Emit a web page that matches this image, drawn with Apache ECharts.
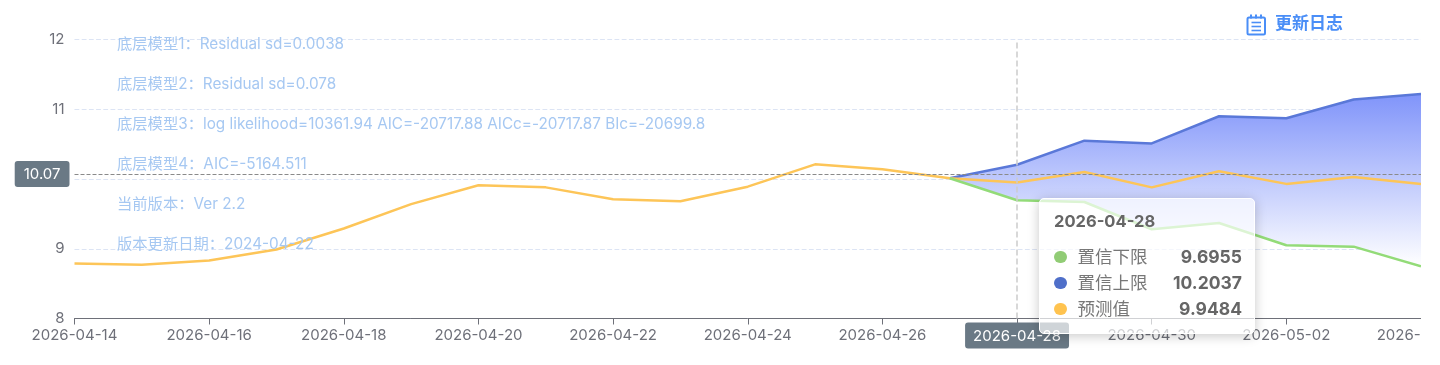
<!DOCTYPE html>
<html lang="zh">
<head>
<meta charset="utf-8">
<style>
html,body{margin:0;padding:0;background:#fff;overflow:hidden}
#chart{width:1421px;height:365px}
</style>
<script src="https://cdn.jsdelivr.net/npm/echarts@6/dist/echarts.min.js"></script>
</head>
<body>
<div id="chart"></div>
<script>
const dates = ['2026-04-14','2026-04-15','2026-04-16','2026-04-17','2026-04-18','2026-04-19','2026-04-20','2026-04-21','2026-04-22','2026-04-23','2026-04-24','2026-04-25','2026-04-26','2026-04-27','2026-04-28','2026-04-29','2026-04-30','2026-05-01','2026-05-02','2026-05-03','2026-05-04'];
const forecast = [8.79,8.77,8.83,8.99,9.29,9.64,9.91,9.88,9.71,9.68,9.89,10.21,10.14,10.01,9.9484,10.10,9.88,10.11,9.93,10.03,9.93];
const lower = [null,null,null,null,null,null,null,null,null,null,null,null,null,10.01,9.6955,9.67,9.28,9.37,9.05,9.03,8.75];
const upper = [null,null,null,null,null,null,null,null,null,null,null,null,null,10.01,10.2037,10.55,10.51,10.90,10.87,11.14,11.22];
const notes = ['底层模型1：Residual sd=0.0038','底层模型2：Residual sd=0.078','底层模型3：log likelihood=10361.94 AIC=-20717.88 AICc=-20717.87 BIc=-20699.8','底层模型4：AIC=-5164.511','当前版本：Ver 2.2','版本更新日期：2024-04-22'];
const logLabel = '更新日志';
const seriesNames = ['置信下限','置信上限','预测值'];
const seriesColors = ['#91CC75','#5470C6','#FAC858'];
const hoverIndex = 14;
const hoverValue = 10.07;

const FONT = 'Inter,"Noto Sans CJK SC",sans-serif';
const chart = echarts.init(document.getElementById('chart'), null, {renderer:'canvas'});
const band = upper.map((u,i)=> u==null ? null : u-lower[i]);

function tipHtml(){
  const vals=[lower,upper,forecast];
  let rows=seriesNames.map((n,k)=>
    `<div style="display:flex;align-items:center;height:26px">
      <span style="width:12.5px;height:12.5px;border-radius:50%;background:${k===0?'#91CC75':k===1?'#4F6FC9':'#FFC34F'};margin-right:11px"></span>
      <span style="flex:1;color:#777">${n}</span>
      <b style="font-weight:700">${vals[k][hoverIndex]}</b></div>`).join('');
  return `<div style="font-weight:700;font-size:16.5px;line-height:24px;margin-bottom:11px">${dates[hoverIndex]}</div>${rows}`;
}

chart.setOption({
  animation:false,
  textStyle:{fontFamily:FONT},
  grid:{left:74.5,right:0,top:39.5,bottom:46.5,containLabel:false,outerBoundsMode:'none'},
  title:{
    left:117, top:24, padding:0, text:notes.join('\n'),
    textStyle:{fontSize:15.3,fontWeight:'normal',color:'#A6C8F2',lineHeight:40,fontFamily:FONT}
  },
  tooltip:{
    trigger:'axis',
    axisPointer:{type:'cross'},
    transitionDuration:0,
    alwaysShowContent:true,
    position:(p)=>[p[0]+22,p[1]+24],
    backgroundColor:'rgba(255,255,255,0.68)',
    borderColor:'#ffffff',
    borderWidth:1,
    padding:[10,12,11,14],
    extraCssText:'width:216px;height:136px;box-sizing:border-box;border-radius:5px;box-shadow:0 2px 12px rgba(0,0,0,0.22);font-size:17.5px;color:#666;',
    textStyle:{fontSize:17.5,color:'#666',fontFamily:FONT},
    formatter:tipHtml
  },
  xAxis:{
    type:'category',boundaryGap:false,data:dates,
    axisLine:{lineStyle:{color:'#6E7079',width:1}},
    axisTick:{interval:1,length:6,lineStyle:{color:'#6E7079'}},
    axisLabel:{interval:1,fontSize:15,color:'#6E7079',margin:9,hideOverlap:false,showMaxLabel:true},
    axisPointer:{lineStyle:{color:'#CCCCCC',type:'dashed',width:1.5},label:{backgroundColor:'#6A7985',fontSize:15,color:'#fff',padding:[6,8,5,8],borderRadius:3,margin:4}}
  },
  yAxis:{
    type:'value',min:8,max:12,interval:1,
    axisLabel:{fontSize:15,color:'#6E7079',margin:10,padding:[0,0,3,0]},
    axisLine:{show:false},
    splitLine:{lineStyle:{color:'#DCE4F4',type:'dashed',width:1.2}},
    axisPointer:{lineStyle:{color:'#8A8A8A',type:'dashed',width:1},label:{precision:2,backgroundColor:'#6A7985',fontSize:15,color:'#fff',padding:[6,9,5,9],borderRadius:3,margin:5}}
  },
  series:[
    {name:seriesNames[0],type:'line',stack:'band',data:lower,symbol:'none',z:4,emphasis:{disabled:true},
      lineStyle:{color:'#93DB78',width:2.5},itemStyle:{color:seriesColors[0]}},
    {name:seriesNames[1],type:'line',stack:'band',data:band,symbol:'none',z:2,emphasis:{disabled:true},
      lineStyle:{color:'#5A78D8',width:2.5},itemStyle:{color:seriesColors[1]},
      areaStyle:{opacity:1,color:new echarts.graphic.LinearGradient(0,0,0,1,[{offset:0,color:'#8094FA'},{offset:1,color:'#FFFFFF'}])}},
    {name:seriesNames[2],type:'line',data:forecast,symbol:'none',z:3,emphasis:{disabled:true},
      lineStyle:{color:'#FDC558',width:2.5},itemStyle:{color:seriesColors[2]}}
  ],
  graphic:[
    {type:'group',left:1245,top:12,children:[
      {type:'rect',shape:{x:1,y:3,width:17.5,height:17,r:1.5},style:{fill:'none',stroke:'#4A8EF7',lineWidth:2}},
      {type:'line',shape:{x1:4.5,y1:0,x2:4.5,y2:4},style:{stroke:'#4A8EF7',lineWidth:2}},
      {type:'line',shape:{x1:9.5,y1:0,x2:9.5,y2:4},style:{stroke:'#4A8EF7',lineWidth:2}},
      {type:'line',shape:{x1:14.5,y1:0,x2:14.5,y2:4},style:{stroke:'#4A8EF7',lineWidth:2}},
      {type:'line',shape:{x1:5,y1:8,x2:14.5,y2:8},style:{stroke:'#4A8EF7',lineWidth:1.6}},
      {type:'line',shape:{x1:5,y1:12,x2:14.5,y2:12},style:{stroke:'#4A8EF7',lineWidth:1.6}},
      {type:'line',shape:{x1:5,y1:16,x2:14.5,y2:16},style:{stroke:'#4A8EF7',lineWidth:1.6}}
    ]},
    {type:'text',left:1275,top:15.5,style:{text:logLabel,fontSize:17,fontWeight:'bold',fill:'#4A8EF7',fontFamily:FONT}}
  ]
});
const px = chart.convertToPixel({xAxisIndex:0},hoverIndex);
const py = chart.convertToPixel({yAxisIndex:0},hoverValue);
chart.dispatchAction({type:'showTip',x:px,y:py});
</script>
</body>
</html>
